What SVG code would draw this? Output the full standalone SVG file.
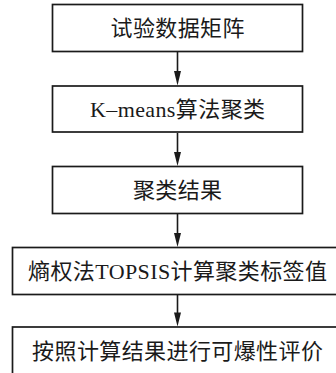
<svg xmlns="http://www.w3.org/2000/svg" width="336" height="373" viewBox="0 0 336 373">
<defs>
<style>
.box{fill:#fff;stroke:#1a1a1a;stroke-width:1.7}
.t{font-family:"Liberation Serif","Noto Sans CJK SC",serif;font-size:22px;fill:#1a1a1a;text-anchor:middle;letter-spacing:0.4px}
.c{stroke:#1a1a1a;stroke-width:1.6;fill:none}
.h{fill:#1a1a1a}
</style>
</defs>
<rect width="336" height="373" fill="#fff"/>
<g id="connectors">
<line class="c" x1="177.5" y1="52" x2="177.5" y2="72"/>
<path class="h" d="M174,71 L181,71 L177.5,85.5 Z"/>
<line class="c" x1="177.5" y1="133" x2="177.5" y2="153"/>
<path class="h" d="M174,152 L181,152 L177.5,166 Z"/>
<line class="c" x1="177.5" y1="214" x2="177.5" y2="234"/>
<path class="h" d="M174,233 L181,233 L177.5,247 Z"/>
<line class="c" x1="177.5" y1="295" x2="177.5" y2="313.5"/>
<path class="h" d="M174,312.5 L181,312.5 L177.5,326.5 Z"/>
</g>
<g id="n1"><rect class="box" x="52.5" y="4.5" width="250" height="47"/><text class="t" x="177.7" y="36">试验数据矩阵</text></g>
<g id="n2"><rect class="box" x="52.5" y="86" width="250" height="46"/><text class="t" x="177.7" y="117">K–means算法聚类</text></g>
<g id="n3"><rect class="box" x="52.5" y="166.5" width="250" height="47"/><text class="t" x="177.7" y="198">聚类结果</text></g>
<g id="n4"><rect class="box" x="12.5" y="247.5" width="330" height="47"/><text class="t" x="177.7" y="279">熵权法TOPSIS计算聚类标签值</text></g>
<g id="n5"><rect class="box" x="12.5" y="327" width="330" height="60"/><text class="t" x="177.7" y="359">按照计算结果进行可爆性评价</text></g>
</svg>
